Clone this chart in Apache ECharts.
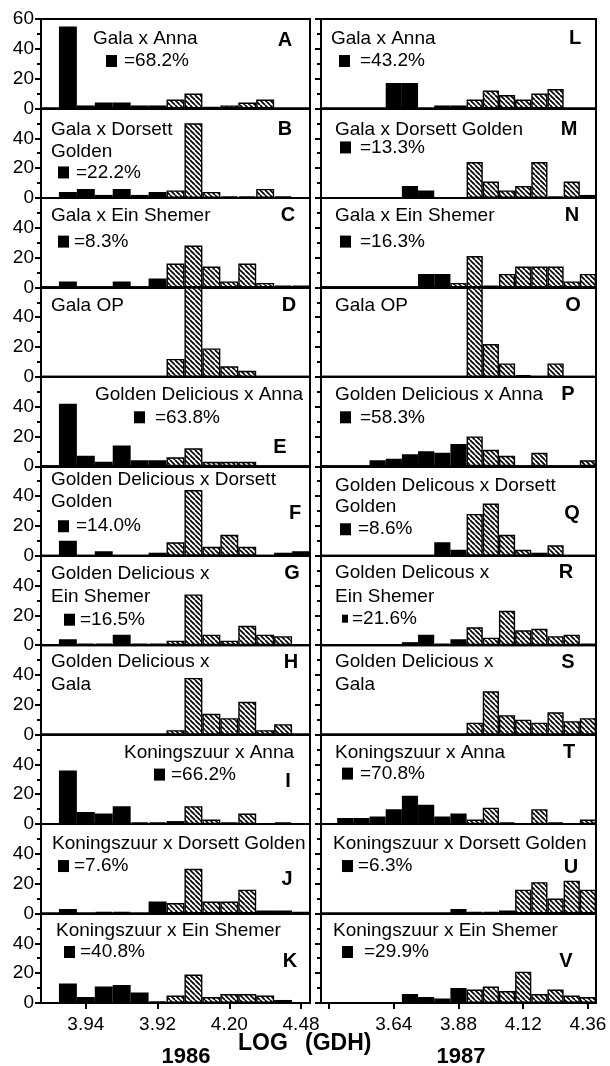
<!DOCTYPE html>
<html><head><meta charset="utf-8">
<script src="https://cdn.jsdelivr.net/npm/echarts@6/dist/echarts.min.js"></script>
<style>html,body{margin:0;padding:0;background:#fff}#c{width:610px;height:1066px}</style>
</head><body><div id="c"></div>
<script>
// ---------------- data ----------------
const bins1986 = ['3.50','3.57','3.64','3.71','3.78','3.85','3.92','3.99','4.06','4.13','4.20','4.27','4.34','4.41','4.48'];
const bins1987 = ['3.40','3.46','3.52','3.58','3.64','3.70','3.76','3.82','3.88','3.94','4.00','4.06','4.12','4.18','4.24','4.30','4.36'];
const tickValues1986 = ['3.64','3.92','4.20','4.48'];
const tickLabels1986 = ['3.94','3.92','4.20','4.48'];
const tickValues1987 = ['3.40','3.64','3.88','4.12','4.36'];
const tickLabels1987 = ['','3.64','3.88','4.12','4.36'];
const yTicks = [0,20,40,60];

// 1986 (left column). kind: B = black bar, H = hatched bar
const valA = [0,55,2,4,4,2,2,6,10,1,2,4,6,0,0];      const kindA = 'BBBBBBBHHBHHHBB';
const valB = [0,4,6,2,6,2,4,5,50,4,1,1,6,1,0];       const kindB = 'BBBBBBBHHHBBHBB';
const valC = [0,4,0,0,4,0,6,16,28,14,4,16,3,1,1];    const kindC = 'BBBBBBBHHHHHHBB';
const valD = [0,0,0,0,0,0,0,12,60,19,7,4,0,0,0];     const kindD = 'BBBBBBBHHHHHBBB';
const valE = [0,42,7,3,14,4,4,6,12,3,3,3,0,0,0];     const kindE = 'BBBBBBBHHHHHBBB';
const valF = [0,10,0,3,0,0,2,9,44,6,14,6,0,2,3];     const kindF = 'BBBBBBBHHHHHBBB';
const valG = [0,4,1,1,7,1,1,3,34,7,3,13,7,6,0];      const kindG = 'BBBBBBBHHHHHHHB';
const valH = [0,0,0,0,0,0,0,3,38,14,11,22,3,7,0];    const kindH = 'BBBBBBBHHHHHHHB';
const valI = [0,36,8,7,12,1,1,2,12,3,1,7,0,1,0];     const kindI = 'BBBBBBBBHHBHBBB';
const valJ = [0,3,0,1,1,0,8,7,30,8,8,16,2,2,1];      const kindJ = 'BBBBBBBHHHHHHHB';
const valK = [0,13,4,11,12,7,1,5,19,4,6,6,5,2,0];    const kindK = 'BBBBBBBHHHHHHBB';
// 1987 (right column)
const valL = [0,0,0,0,17,17,0,2,2,6,12,9,6,10,13,0,0];   const kindL = 'BBBBBBBBBHHHHHHBB';
const valM = [0,0,0,0,0,8,5,0,0,24,11,5,8,24,1,11,2];    const kindM = 'BBBBBBBBBHHHHHBHB';
const valN = [0,0,0,0,0,0,9,9,3,21,1,9,14,14,14,4,9];    const kindN = 'BBBBBBBBHHBHHHHHH';
const valO = [0,0,0,0,0,0,0,0,0,60,22,9,1,0,9,0,0];      const kindO = 'BBBBBBBBBHHHBBHBB';
const valP = [0,0,0,4,5,8,10,9,15,20,11,7,0,9,0,0,4];    const kindP = 'BBBBBBBBBHHHBHBBH';
const valQ = [0,0,0,0,0,0,0,9,4,28,35,14,4,2,7,0,0];     const kindQ = 'BBBBBBBBBHHHHBHBB';
const valR = [0,0,0,0,0,2,7,1,4,12,5,23,10,11,6,7,1];    const kindR = 'BBBBBBBBBHHHHHHHB';
const valS = [0,0,0,0,0,0,0,0,0,8,29,13,10,8,15,9,11];   const kindS = 'BBBBBBBBBHHHHHHHH';
const valT = [0,4,4,5,10,19,13,5,7,3,11,1,0,10,1,0,3];   const kindT = 'BBBBBBBBBHHBBHBBH';
const valU = [0,0,0,0,0,0,0,0,3,1,1,2,16,21,10,22,16];   const kindU = 'BBBBBBBBBBBHHHHHH';
const valV = [0,0,0,0,0,6,4,3,10,9,11,8,21,6,9,5,4];     const kindV = 'BBBBBBBBBHHHHHHHH';

const titles = {
  A:['Gala x Anna'], B:['Gala x Dorsett','Golden'], C:['Gala x Ein Shemer'], D:['Gala OP'],
  E:['Golden Delicious x Anna'], F:['Golden Delicious x Dorsett','Golden'], G:['Golden Delicious x','Ein Shemer'],
  H:['Golden Delicious x','Gala'], I:['Koningszuur x Anna'], J:['Koningszuur x Dorsett Golden'], K:['Koningszuur x Ein Shemer'],
  L:['Gala x Anna'], M:['Gala x Dorsett Golden'], N:['Gala x Ein Shemer'], O:['Gala OP'],
  P:['Golden Delicious x Anna'], Q:['Golden Delicous x Dorsett','Golden'], R:['Golden Delicous x','Ein Shemer'],
  S:['Golden Delicious x','Gala'], T:['Koningszuur x Anna'], U:['Koningszuur x Dorsett Golden'], V:['Koningszuur x Ein Shemer']
};
const percents = {A:'=68.2%',B:'=22.2%',C:'=8.3%',E:'=63.8%',F:'=14.0%',G:'=16.5%',I:'=66.2%',J:'=7.6%',K:'=40.8%',
  L:'=43.2%',M:'=13.3%',N:'=16.3%',P:'=58.3%',Q:'=8.6%',R:'=21.6%',T:'=70.8%',U:'=6.3%',V:'=29.9%'};

const leftIds = ['A','B','C','D','E','F','G','H','I','J','K'];
const rightIds = ['L','M','N','O','P','Q','R','S','T','U','V'];
const vals = {A:valA,B:valB,C:valC,D:valD,E:valE,F:valF,G:valG,H:valH,I:valI,J:valJ,K:valK,
  L:valL,M:valM,N:valN,O:valO,P:valP,Q:valQ,R:valR,S:valS,T:valT,U:valU,V:valV};
const kinds = {A:kindA,B:kindB,C:kindC,D:kindD,E:kindE,F:kindF,G:kindG,H:kindH,I:kindI,J:kindJ,K:kindK,
  L:kindL,M:kindM,N:kindN,O:kindO,P:kindP,Q:kindQ,R:kindR,S:kindS,T:kindT,U:kindU,V:kindV};

// ---------------- layout (styles / positions) ----------------
const FONT = "'Liberation Sans', Arial, Helvetica, sans-serif";
const TOP0 = 19, PH = 89.45;
const COLS = [{x:41, w:269}, {x:321, w:275}];
// text placement relative to each panel (dx from grid left, dy from grid top)
const lay = {
  A:{tx:52, ty:[19.5], sx:65, sy:42, px:83, lx:244, ly:21},
  B:{tx:10, ty:[21.5,43], sx:17, sy:64, px:35, lx:244, ly:21.5},
  C:{tx:10, ty:[18], sx:17, sy:43.7, px:33, lx:247, ly:18},
  D:{tx:10, ty:[18], lx:248, ly:18},
  E:{tx:54, ty:[18], sx:93, sy:40.5, px:114, lx:239, ly:71},
  F:{tx:10, ty:[14,35.7], sx:17, sy:60, px:35, lx:254, ly:47},
  G:{tx:10, ty:[18,40.7], sx:23, sy:64, px:39, lx:251, ly:18},
  H:{tx:10, ty:[17,40], lx:250, ly:17},
  I:{tx:83, ty:[18], sx:113, sy:40, px:130, lx:247, ly:47},
  J:{tx:11, ty:[20], sx:17, sy:42, px:33, lx:246, ly:55},
  K:{tx:15, ty:[17.5], sx:23, sy:38.5, px:39, lx:249, ly:48},
  L:{tx:10, ty:[19.5], sx:18, sy:42, px:39, lx:254, ly:19},
  M:{tx:14, ty:[21.5], sx:19, sy:39, px:39, lx:248, ly:21.5},
  N:{tx:14, ty:[18], sx:19, sy:43.7, px:39, lx:251, ly:18},
  O:{tx:14, ty:[18], lx:252, ly:18},
  P:{tx:14, ty:[18], sx:19, sy:40.5, px:39, lx:247, ly:18},
  Q:{tx:14, ty:[20,41], sx:19, sy:63, px:37, lx:251, ly:47},
  R:{tx:14, ty:[17,41], sx:21, sy:63, px:31, lx:245, ly:17, small:true},
  S:{tx:14, ty:[17,40], lx:247, ly:17},
  T:{tx:14, ty:[18], sx:21, sy:39, px:39, lx:248, ly:18},
  U:{tx:12, ty:[20], sx:21, sy:42, px:37, lx:250, ly:43},
  V:{tx:12, ty:[17.5], sx:21, sy:38.5, px:43, lx:245, ly:48}
};

function hatchCanvas(){
  const c = document.createElement('canvas'); c.width = 5; c.height = 5;
  const g = c.getContext('2d');
  g.fillStyle = '#fff'; g.fillRect(0,0,5,5);
  g.strokeStyle = '#000'; g.lineWidth = 1.7;
  for (let o = -5; o <= 5; o += 5) { g.beginPath(); g.moveTo(o,0); g.lineTo(o+5,5); g.stroke(); }
  return c;
}
const HATCH = {image: hatchCanvas(), repeat: 'repeat'};

const grids = [], xAxes = [], yAxes = [], series = [], graphics = [];
[leftIds, rightIds].forEach((ids, col) => {
  const bins = col === 0 ? bins1986 : bins1987;
  const tv = col === 0 ? tickValues1986 : tickValues1987;
  const tl = col === 0 ? tickLabels1986 : tickLabels1987;
  ids.forEach((id, row) => {
    const idx = grids.length;
    const gx = COLS[col].x, gy = TOP0 + row * PH;
    const bottom = row === ids.length - 1;
    grids.push({left: gx, top: gy, width: COLS[col].w, height: PH, show: true,
      borderColor: '#000', borderWidth: 2, containLabel: false});
    const isTick = (i, v) => tv.indexOf(bins[i]) >= 0;
    xAxes.push({type: 'category', gridIndex: idx, data: bins, boundaryGap: true,
      axisLine: {show: true, lineStyle: {color: '#000', width: 2}},
      axisTick: {show: bottom, alignWithLabel: true, interval: isTick, length: 6, lineStyle: {color: '#000', width: 2}},
      axisLabel: {show: bottom, interval: isTick, margin: 12, fontSize: 19, color: '#000', fontFamily: FONT,
        formatter: v => { const k = tv.indexOf(v); return k >= 0 ? tl[k] : ''; }},
      splitLine: {show: false}});
    yAxes.push({type: 'value', gridIndex: idx, min: 0, max: 60, interval: 20,
      axisLine: {show: true, lineStyle: {color: '#000', width: 2}},
      axisTick: {show: true, length: 6, lineStyle: {color: '#000', width: 2}},
      minorTick: {show: true, splitNumber: 2, length: 4, lineStyle: {color: '#000', width: 2}},
      splitLine: {show: false}, minorSplitLine: {show: false},
      axisLabel: {show: col === 0, margin: 7, fontSize: 19, color: '#000', fontFamily: FONT,
        showMaxLabel: true, showMinLabel: true,
        formatter: v => (yTicks.indexOf(v) >= 0 && !(v === 60 && row > 0)) ? String(v) : ''}});
    const v = vals[id], k = kinds[id];
    const blk = v.map((x, i) => (k[i] === 'B' && x > 0) ? x : null);
    const hat = v.map((x, i) => (k[i] === 'H' && x > 0) ? x : null);
    series.push({type: 'bar', xAxisIndex: idx, yAxisIndex: idx, data: blk, barWidth: '100%', barGap: '-100%',
      itemStyle: {color: '#000', borderColor: '#000', borderWidth: 2}, silent: true});
    series.push({type: 'bar', xAxisIndex: idx, yAxisIndex: idx, data: hat, barWidth: '100%', barGap: '-100%',
      itemStyle: {color: HATCH, borderColor: '#000', borderWidth: 1.4}, silent: true});

    // panel texts
    const L = lay[id];
    titles[id].forEach((t, j) => graphics.push({type: 'text', x: gx + L.tx, y: gy + L.ty[j], z: 10,
      style: {text: t, font: `19px ${FONT}`, fill: '#000', textVerticalAlign: 'middle', verticalAlign: 'middle'}}));
    if (percents[id]) {
      const w = L.small ? 6 : 11, h = L.small ? 8 : 12;
      graphics.push({type: 'rect', z: 10, shape: {x: gx + L.sx, y: gy + L.sy - h / 2, width: w, height: h}, style: {fill: '#000'}});
      graphics.push({type: 'text', x: gx + L.px, y: gy + L.sy, z: 10,
        style: {text: percents[id], font: `19px ${FONT}`, fill: '#000', textVerticalAlign: 'middle', verticalAlign: 'middle'}});
    }
    graphics.push({type: 'text', x: gx + L.lx, y: gy + L.ly, z: 10,
      style: {text: id, font: `bold 20px ${FONT}`, fill: '#000', textAlign: 'center', align: 'center',
        textVerticalAlign: 'middle', verticalAlign: 'middle'}});
  });
});
graphics.push({type:'text', x:238, y:1044, z:10, style:{text:'LOG', font:`bold 23px ${FONT}`, fill:'#000', textVerticalAlign:'middle', verticalAlign:'middle'}});
graphics.push({type:'text', x:305, y:1044, z:10, style:{text:'(GDH)', font:`bold 23px ${FONT}`, fill:'#000', textVerticalAlign:'middle', verticalAlign:'middle'}});
graphics.push({type:'text', x:186, y:1057, z:10, style:{text:'1986', font:`bold 22px ${FONT}`, fill:'#000', textAlign:'center', align:'center', textVerticalAlign:'middle', verticalAlign:'middle'}});
graphics.push({type:'text', x:461, y:1057, z:10, style:{text:'1987', font:`bold 22px ${FONT}`, fill:'#000', textAlign:'center', align:'center', textVerticalAlign:'middle', verticalAlign:'middle'}});

const chart = echarts.init(document.getElementById('c'), null, {renderer: 'canvas'});
chart.setOption({animation: false, backgroundColor: '#fff', grid: grids, xAxis: xAxes, yAxis: yAxes,
  series: series, graphic: {elements: graphics}});
</script></body></html>
